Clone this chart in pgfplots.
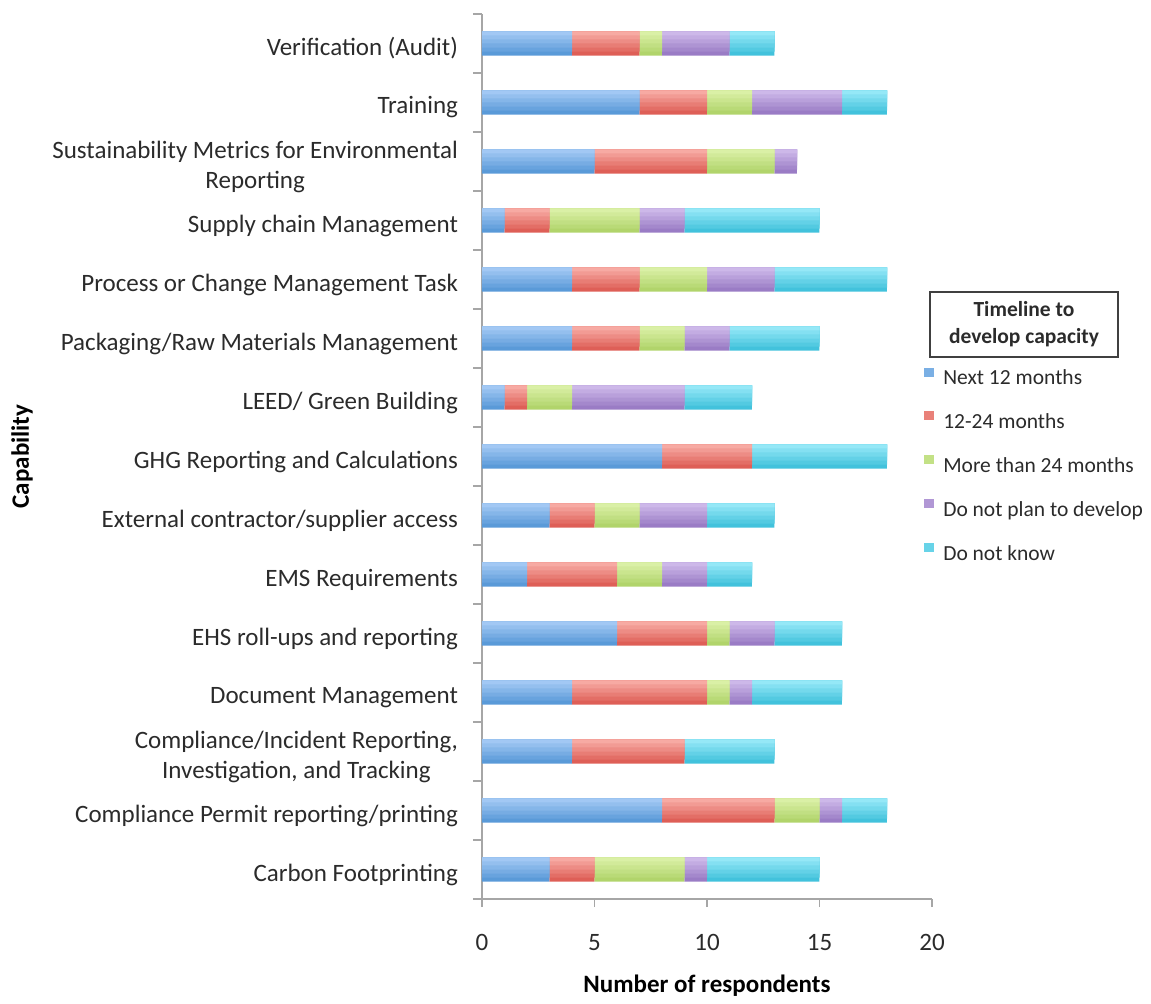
\documentclass[border=0pt]{standalone}
\usepackage{pgfplots}
\usepackage{pgfplotstable}
\pgfplotsset{compat=1.18}
\usepackage{fontspec}
\setmainfont{Carlito}
\definecolor{bT}{HTML}{A2C8F4}\definecolor{bB}{HTML}{5A9AD8}
\definecolor{rT}{HTML}{F7AAA3}\definecolor{rB}{HTML}{DE5F57}
\definecolor{gT}{HTML}{DAF0A6}\definecolor{gB}{HTML}{B1D46B}
\definecolor{pT}{HTML}{CDB8E9}\definecolor{pB}{HTML}{9A7CC5}
\definecolor{cT}{HTML}{95E8F7}\definecolor{cB}{HTML}{42C2DC}
\definecolor{axgray}{HTML}{A6A6A6}
\definecolor{txt}{HTML}{2B2B2B}
\pgfplotstableread{
cat s1 s2 s3 s4 s5
0  3 2 4 1 5
1  8 5 2 1 2
2  4 5 0 0 4
3  4 6 1 1 4
4  6 4 1 2 3
5  2 4 2 2 2
6  3 2 2 3 3
7  8 4 0 0 6
8  1 1 2 5 3
9  4 3 2 2 4
10 4 3 3 3 5
11 1 2 4 2 6
12 5 5 3 1 0
13 7 3 2 4 2
14 4 3 1 3 2
}\data
\pgfplotsset{
  geom/.style={at={(0,0)}, anchor=south west,
    scale only axis, width=225pt, height=442.5pt,
    xbar stacked, xmin=0, xmax=20, ymin=-0.5, ymax=14.5},
  sq/.style={legend image code/.code={\fill[#1] (0pt,1.3pt) rectangle (5pt,5.8pt); \path (9.5pt,0pt);}},
}
\begin{document}
\begin{tikzpicture}
\begin{axis}[
  geom, bar width=0.41,
  xtick={0,5,...,20},
  ytick={0,...,14},
  yticklabels={Carbon Footprinting,
    Compliance Permit reporting/printing,
    {Compliance/Incident Reporting,\\Investigation, and Tracking},
    Document Management,
    EHS roll-ups and reporting,
    EMS Requirements,
    External contractor/supplier access,
    GHG Reporting and Calculations,
    LEED/ Green Building,
    Packaging/Raw Materials Management,
    Process or Change Management Task,
    Supply chain Management,
    {Sustainability Metrics for Environmental\\Reporting},
    Training,
    Verification (Audit)},
  minor ytick={-0.5,0.5,...,14.5},
  major y tick style={draw=none},
  minor y tick style={draw=axgray, line width=0.9pt},
  major x tick style={draw=axgray, line width=0.9pt},
  major tick length=4pt, minor tick length=4.5pt,
  tick align=outside,
  axis x line*=bottom, axis y line*=left,
  axis line style={draw=axgray, line width=1pt, -},
  yticklabel style={font=\fontsize{12.5}{15}\selectfont, text=txt, align=center, xshift=-4.5pt, yshift=-2.5pt},
  xticklabel style={font=\fontsize{12.5}{13}\selectfont, text=txt, yshift=-10pt},
  /pgf/number format/assume math mode=true,
  xlabel={\textbf{Number of respondents}},
  ylabel={\textbf{Capability}},
  every axis x label/.style={at={(axis description cs:0.5,0)}, anchor=center, yshift=-43.5pt, font=\fontsize{12.5}{13}\selectfont, text=black},
  every axis y label/.style={at={(axis description cs:-1.022,0.5)}, rotate=90, anchor=center, font=\fontsize{12.5}{13}\selectfont, text=black},
  legend style={draw=none, fill=none, at={(axis description cs:0.982,0.601)}, anchor=north west,
    inner sep=0pt, row sep=10.9pt, font=\fontsize{10.75}{11}\selectfont, text=txt,
    nodes={inner sep=0pt, text height=8pt, text depth=2.5pt}},
  legend cell align=left,
]
\addplot[draw=none, fill=bB, sq=bB!55!bT] table[x=s1,y=cat]{\data};
\addlegendentry{Next 12 months}
\addplot[draw=none, fill=rB, sq=rB!55!rT] table[x=s2,y=cat]{\data};
\addlegendentry{12-24 months}
\addplot[draw=none, fill=gB, sq=gB!55!gT] table[x=s3,y=cat]{\data};
\addlegendentry{More than 24 months}
\addplot[draw=none, fill=pB, sq=pB!55!pT] table[x=s4,y=cat]{\data};
\addlegendentry{Do not plan to develop}
\addplot[draw=none, fill=cB, sq=cB!55!cT] table[x=s5,y=cat]{\data};
\addlegendentry{Do not know}
\end{axis}
\foreach \k in {1,2,3,4,5} {
  \pgfmathsetmacro\bw{0.41*(1-\k/6)}
  \pgfmathsetmacro\bs{0.205*\k/6}
  \pgfmathtruncatemacro\pct{100-20*\k}
  \begin{axis}[geom, hide axis, bar width=\bw, bar shift=\bs]
  \addplot[draw=none, fill=bB!\pct!bT] table[x=s1,y=cat]{\data};
  \addplot[draw=none, fill=rB!\pct!rT] table[x=s2,y=cat]{\data};
  \addplot[draw=none, fill=gB!\pct!gT] table[x=s3,y=cat]{\data};
  \addplot[draw=none, fill=pB!\pct!pT] table[x=s4,y=cat]{\data};
  \addplot[draw=none, fill=cB!\pct!cT] table[x=s5,y=cat]{\data};
  \end{axis}
}
\draw[draw=black!75, line width=0.7pt] (224pt,271pt) rectangle (318pt,303.5pt);
\node[align=center, font=\fontsize{10.75}{13.5}\selectfont\bfseries, text=txt] at (271pt,287.25pt) {Timeline to\\develop capacity};
\path (-241pt,-49.5pt) rectangle (334.5pt,449.5pt);
\end{tikzpicture}
\end{document}
